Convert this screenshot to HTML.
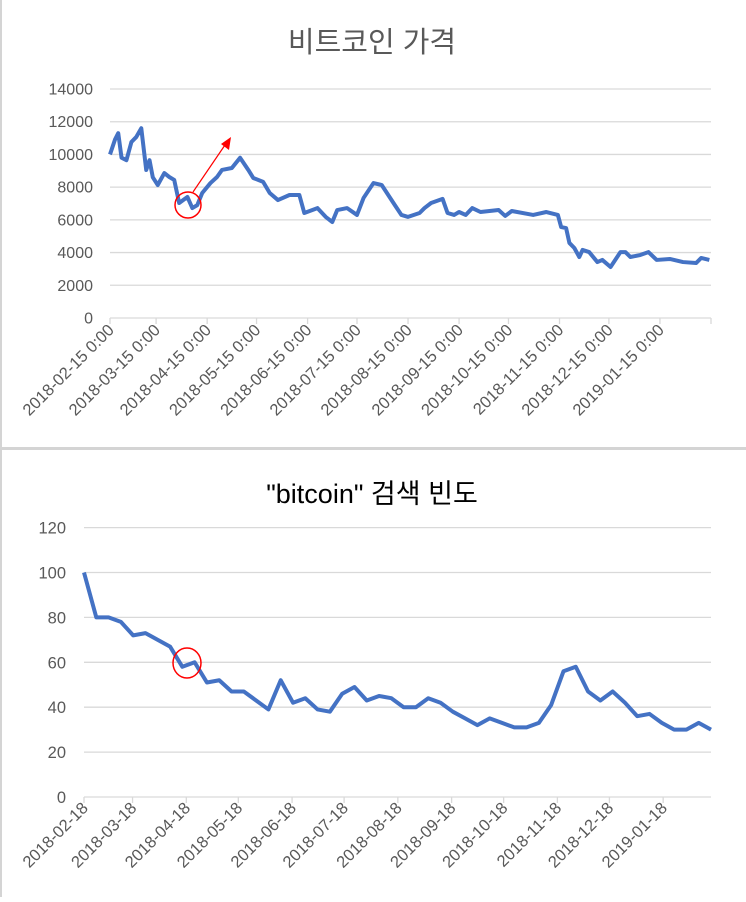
<!DOCTYPE html>
<html><head><meta charset="utf-8">
<style>
html,body{margin:0;padding:0;background:#fff;}
body{width:746px;height:897px;overflow:hidden;position:relative;font-family:"Liberation Sans","Noto Sans CJK KR",sans-serif;}
svg text{font-family:"Liberation Sans","Noto Sans CJK KR",sans-serif;}
</style></head><body>
<svg id="chart" width="746" height="897">
<rect x="1" y="-2" width="760" height="450" fill="none" stroke="#d4d4d4" stroke-width="2"/>
<rect x="1" y="449" width="760" height="460" fill="none" stroke="#d4d4d4" stroke-width="2"/>
<text x="372" y="52" text-anchor="middle" font-size="29" fill="#595959">비트코인 가격</text>
<text x="372" y="503" text-anchor="middle" font-size="27" fill="#000">"bitcoin" 검색 빈도</text>
<g id="top"></g><g id="bot"></g>
<circle cx="188" cy="205" r="13" fill="none" stroke="#ff0000" stroke-width="1.5"/>
<line x1="193" y1="192" x2="225" y2="145" stroke="#ff0000" stroke-width="1.2"/>
<polygon points="231,137 229,150 221,144" fill="#ff0000"/>
<ellipse cx="187" cy="663" rx="14" ry="15" fill="none" stroke="#ff0000" stroke-width="1.5"/>
</svg>
<script>
// price chart data
const priceDays=[0,3,5,7,10,13,16,19,22,24,26,29,33,36,39,42,47,50,53,56,61,65,68,74,79,84,87,93,97,102,109,115,118,126,131,135,138,144,150,154,160,165,173,177,181,188,191,195,202,205,209,212,216,220,225,236,240,244,257,265,272,274,277,279,282,285,287,291,296,299,304,310,313,316,322,327,332,340,348,356,359,364];
const priceVals=[10000,10900,11300,9800,9650,10760,11070,11600,9050,9650,8600,8130,8860,8620,8440,7030,7400,6720,6900,7640,8250,8620,9050,9170,9800,9050,8560,8320,7640,7210,7520,7520,6420,6720,6180,5870,6600,6720,6300,7340,8250,8130,6900,6300,6180,6420,6720,7030,7280,6420,6300,6480,6300,6720,6480,6600,6240,6540,6300,6480,6300,5560,5500,4590,4280,3730,4160,4030,3420,3550,3120,4030,4030,3730,3850,4030,3550,3610,3420,3360,3670,3550];
const priceTicks=[0,2000,4000,6000,8000,10000,12000,14000];
const priceXLabels=["2018-02-15 0:00","2018-03-15 0:00","2018-04-15 0:00","2018-05-15 0:00","2018-06-15 0:00","2018-07-15 0:00","2018-08-15 0:00","2018-09-15 0:00","2018-10-15 0:00","2018-11-15 0:00","2018-12-15 0:00","2019-01-15 0:00"];
const priceXLabelDays=[0,28,59,89,120,150,181,212,242,273,303,334];
// search chart data
const searchVals=[100,80,80,78,72,73,70,67,58,60,51,52,47,47,43,39,52,42,44,39,38,46,49,43,45,44,40,40,44,42,38,35,32,35,33,31,31,33,41,56,58,47,43,47,42,36,37,33,30,30,33,30];
const searchTicks=[0,20,40,60,80,100,120];
const searchXLabels=["2018-02-18","2018-03-18","2018-04-18","2018-05-18","2018-06-18","2018-07-18","2018-08-18","2018-09-18","2018-10-18","2018-11-18","2018-12-18","2019-01-18"];
const searchXLabelDays=[0,28,59,89,120,150,181,212,242,273,303,334];

const NS="http://www.w3.org/2000/svg";
function mk(tag,attrs,parent){const e=document.createElementNS(NS,tag);for(const k in attrs)e.setAttribute(k,attrs[k]);parent.appendChild(e);return e;}

// top chart
(function(){
const g=document.getElementById('top');
const x=d=>110+d*(601/365), y=v=>318-v*(229/14000);
priceTicks.forEach(t=>{
  const l=mk('line',{x1:110,x2:711,y1:y(t),y2:y(t),stroke:'#d9d9d9','stroke-width':1.3},g);
  
  
  const tx=mk('text',{x:93,y:y(t)+5.5,'text-anchor':'end','font-size':16,fill:'#595959'},g);
  tx.textContent=t;
  
  
});
priceXLabelDays.concat([365]).forEach(d=>{
  const l=mk('line',{x1:x(d),x2:x(d),y1:318,y2:324,stroke:'#d9d9d9','stroke-width':1.3},g);
  
  
});
priceXLabels.forEach((s,i)=>{
  const px=x(priceXLabelDays[i])+5, py=331;
  const tx=mk('text',{x:px,y:py,'text-anchor':'end','font-size':16.5,fill:'#595959',transform:`rotate(-45 ${px} ${py})`},g);
  tx.textContent=s;
  
  
});
const p=mk('polyline',{points:priceDays.map((d,i)=>x(d)+','+y(priceVals[i])).join(' '),fill:'none',stroke:'#4472c4','stroke-width':4,'stroke-linejoin':'round'},g);


})();

// bottom chart
(function(){
const g=document.getElementById('bot');
const xi=i=>84+i*(627/(searchVals.length-1)), xd=d=>84+d*1.734, y=v=>797-v*2.245;
searchTicks.forEach(t=>{
  const l=mk('line',{x1:84,x2:711,y1:y(t),y2:y(t),stroke:'#d9d9d9','stroke-width':1.3},g);
  
  
  const tx=mk('text',{x:66,y:y(t)+6,'text-anchor':'end','font-size':16.5,fill:'#595959'},g);
  tx.textContent=t;
  
  
});
searchXLabelDays.forEach(d=>{
  const l=mk('line',{x1:xd(d),x2:xd(d),y1:797,y2:803,stroke:'#d9d9d9','stroke-width':1.3},g);
  
  
});
searchXLabels.forEach((s,i)=>{
  const px=xd(searchXLabelDays[i])+5, py=809;
  const tx=mk('text',{x:px,y:py,'text-anchor':'end','font-size':16.5,fill:'#595959',transform:`rotate(-45 ${px} ${py})`},g);
  tx.textContent=s;
  
  
});
const p=mk('polyline',{points:searchVals.map((v,i)=>xi(i)+','+y(v)).join(' '),fill:'none',stroke:'#4472c4','stroke-width':4,'stroke-linejoin':'round'},g);


})();
</script>
</body></html>
